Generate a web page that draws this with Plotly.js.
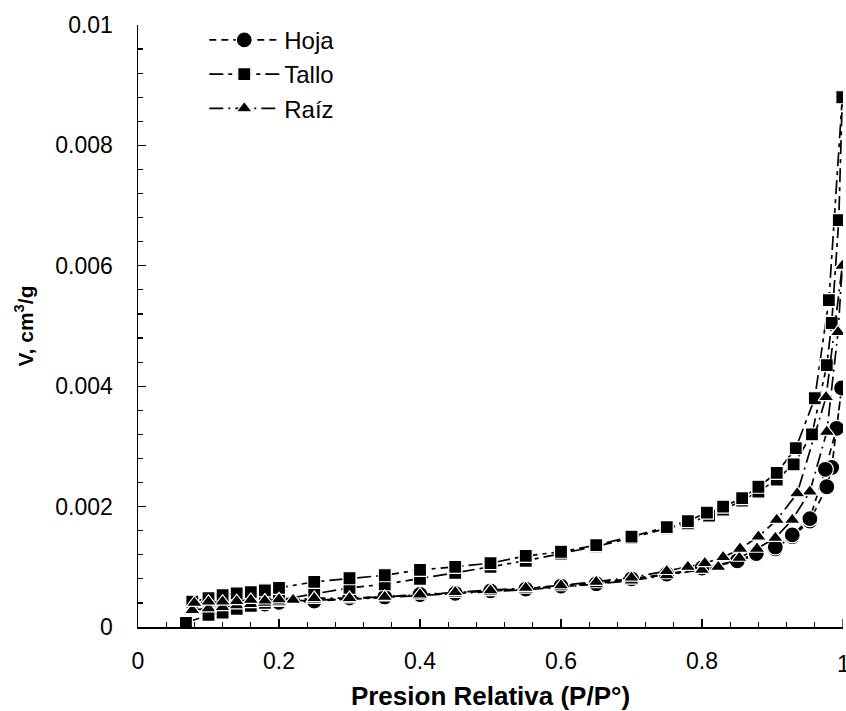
<!DOCTYPE html>
<html>
<head>
<meta charset="utf-8">
<script src="https://cdn.plot.ly/plotly-3.0.1.min.js"></script>
<style>html,body{margin:0;padding:0;background:#fff;}#chart{width:846px;height:711px;}</style>
</head>
<body>
<div id="chart"></div>
<script>
// Hoja (leaf): adsorption and desorption branches
var hojaAdsX = [0.10,0.12,0.14,0.16,0.18,0.20,0.25,0.30,0.35,0.40,0.45,0.50,0.55,0.60,0.65,0.70,0.75,0.80,0.85,0.877,0.904,0.928,0.953,0.977,0.984,0.998];
var hojaAdsV = [0.00025,0.00031,0.00034,0.00036,0.00038,0.0004,0.00043,0.00047,0.0005,0.00053,0.00056,0.00059,0.00063,0.00067,0.00072,0.00079,0.00087,0.00097,0.00109,0.0012,0.0013,0.0015,0.00176,0.00233,0.00265,0.00397];
var hojaDesX = [0.991,0.975,0.953,0.928,0.904,0.877,0.85,0.80,0.75,0.70,0.60,0.50,0.40,0.30,0.20];
var hojaDesV = [0.0033,0.00262,0.0018,0.00153,0.00133,0.00122,0.0011,0.00098,0.00088,0.0008,0.00068,0.0006,0.00054,0.00048,0.00041];

// Tallo (stem)
var talloAdsX = [0.068,0.10,0.12,0.14,0.16,0.18,0.20,0.25,0.30,0.35,0.40,0.45,0.50,0.55,0.60,0.65,0.70,0.75,0.78,0.81,0.83,0.857,0.88,0.906,0.93,0.956,0.977,0.984,0.994,0.999];
var talloAdsV = [0.00007,0.0002,0.00024,0.0003,0.00035,0.0004,0.00045,0.00055,0.00065,0.00071,0.0008,0.0009,0.001,0.0011,0.00122,0.00134,0.00148,0.00164,0.00172,0.00185,0.00195,0.0021,0.00225,0.00245,0.0027,0.0032,0.00435,0.00505,0.00676,0.0088];
var talloDesX = [0.98,0.96,0.933,0.906,0.88,0.857,0.83,0.807,0.78,0.75,0.70,0.65,0.60,0.55,0.50,0.45,0.40,0.35,0.30,0.25,0.20,0.18,0.16,0.14,0.12,0.10,0.077];
var talloDesV = [0.00543,0.0038,0.00297,0.00256,0.00233,0.00214,0.002,0.0019,0.00176,0.00166,0.0015,0.00136,0.00125,0.00118,0.00106,0.001,0.00095,0.00086,0.00081,0.00075,0.00065,0.00061,0.00058,0.00056,0.00053,0.00048,0.00042];

// Raíz (root)
var raizAdsX = [0.077,0.10,0.12,0.14,0.16,0.18,0.20,0.25,0.30,0.35,0.40,0.45,0.50,0.55,0.60,0.65,0.70,0.75,0.80,0.823,0.853,0.878,0.904,0.928,0.953,0.977,0.993,0.999];
var raizAdsV = [0.00028,0.00031,0.00033,0.00036,0.00038,0.0004,0.00042,0.00045,0.00046,0.00049,0.00052,0.00055,0.00058,0.00062,0.00066,0.00071,0.00077,0.00086,0.00095,0.001,0.00115,0.0013,0.00148,0.00178,0.00225,0.00324,0.0049,0.006];
var raizDesX = [0.976,0.935,0.906,0.88,0.854,0.83,0.804,0.78,0.75,0.70,0.65,0.60,0.55,0.50,0.45,0.40,0.35,0.30,0.25,0.22,0.20,0.18,0.16,0.14,0.12,0.10,0.08];
var raizDesV = [0.00382,0.00222,0.00178,0.0015,0.0013,0.00116,0.00106,0.001,0.00093,0.00082,0.00075,0.00069,0.00065,0.00061,0.00058,0.00054,0.0005,0.00048,0.00048,0.00045,0.00046,0.00044,0.00045,0.00043,0.00042,0.00042,0.0004];

var seriesNames = ['Hoja', 'Tallo', 'Raíz'];
var tickValsX = [0, 0.2, 0.4, 0.6, 0.8];
var tickTextX = ['0', '0.2', '0.4', '0.6', '0.8'];
var lastTickX = 1;
var lastTickTextX = '1';
var tickValsY = [0, 0.002, 0.004, 0.006, 0.008, 0.01];
var tickTextY = ['0', '0.002', '0.004', '0.006', '0.008', '0.01'];

var FONT = 'Liberation Sans, Arial, sans-serif';

function mk(name, ax, av, dx, dv, symbol, size, dash, group) {
  return {
    type: 'scatter', mode: 'lines+markers', name: name,
    x: ax.concat(dx), y: av.concat(dv),
    legendgroup: group,
    line: {color: '#000', width: 1.7, dash: dash},
    marker: {symbol: symbol, size: size, color: '#000', line: {color: '#fff', width: 1.2}}
  };
}

var traces = [
  mk(seriesNames[0], hojaAdsX, hojaAdsV, hojaDesX, hojaDesV, 'circle', 16, '7px,5px', 'g1'),
  mk(seriesNames[1], talloAdsX, talloAdsV, talloDesX, talloDesV, 'square', 13, '14px,5px,4px,5px', 'g2'),
  mk(seriesNames[2], raizAdsX, raizAdsV, raizDesX, raizDesV, 'triangle-up', 14, '14px,5px,2px,5px', 'g3')
];

var axisCommon = {
  showgrid: false, zeroline: false, showline: true, linecolor: '#000', linewidth: 1.5,
  ticks: 'inside', ticklen: 8, tickwidth: 1.3, tickcolor: '#000',
  tickfont: {family: FONT, size: 23, color: '#000'}
};

var layout = {
  width: 846, height: 711,
  margin: {l: 138, r: 3, t: 25, b: 84},
  paper_bgcolor: '#fff', plot_bgcolor: '#fff',
  showlegend: true,
  legend: {
    x: 0.094, y: 1.012, xanchor: 'left', yanchor: 'top',
    bgcolor: 'rgba(0,0,0,0)', itemwidth: 70, traceorder: 'grouped', tracegroupgap: 0,
    font: {family: FONT, size: 24, color: '#000'}
  },
  xaxis: Object.assign({}, axisCommon, {
    range: [0, 1], tickmode: 'array', tickvals: tickValsX, ticktext: tickTextX,
    ticklabelstandoff: 13,
    minor: {dtick: 0.04, tick0: 0, ticks: 'inside', ticklen: 5, tickwidth: 1.2, tickcolor: '#000', showgrid: false},
    title: {text: 'Presion Relativa (P/P°)', font: {family: FONT, size: 26, color: '#000', weight: 'bold'}, standoff: 17}
  }),
  yaxis: Object.assign({}, axisCommon, {
    range: [0, 0.01], tickmode: 'array', tickvals: tickValsY, ticktext: tickTextY,
    ticklabelstandoff: 19,
    minor: {dtick: 0.0004, tick0: 0, ticks: 'inside', ticklen: 5, tickwidth: 1.2, tickcolor: '#000', showgrid: false},
    title: {text: '<b>V, cm<sup>3</sup>/g</b>', font: {family: FONT, size: 21, color: '#000'}, standoff: 16}
  }),
  annotations: [{
    text: lastTickTextX, xref: 'x', x: lastTickX, yref: 'paper', y: 0,
    xanchor: 'center', yanchor: 'top', yshift: -22, showarrow: false,
    font: {family: FONT, size: 23, color: '#000'}
  }],
  shapes: [{
    type: 'line', xref: 'x', x0: lastTickX, x1: lastTickX, yref: 'paper', ysizemode: 'pixel', yanchor: 0, y0: 0, y1: 8,
    line: {color: '#000', width: 1.3}
  }]
};

Plotly.newPlot('chart', traces, layout, {displayModeBar: false, staticPlot: true});
</script>
</body>
</html>
